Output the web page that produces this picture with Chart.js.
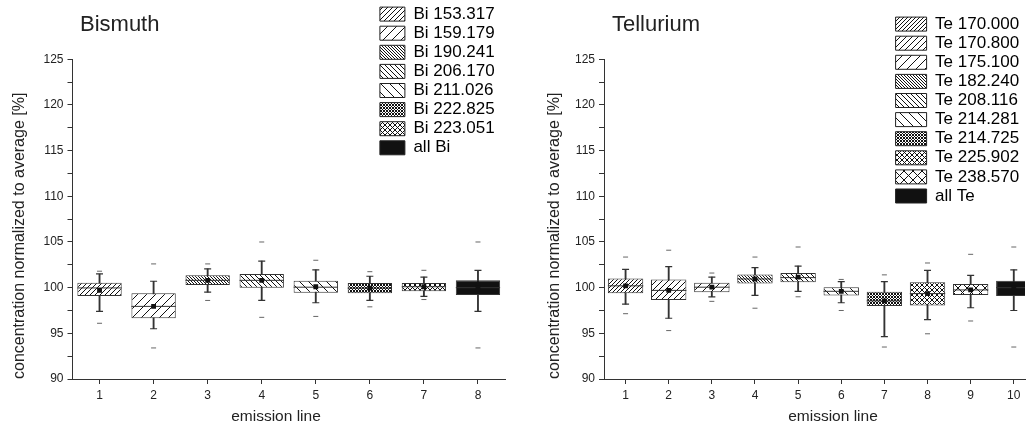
<!DOCTYPE html>
<html>
<head>
<meta charset="utf-8">
<script src="https://cdn.jsdelivr.net/npm/chart.js@4.4.1/dist/chart.umd.min.js"></script>
<style>
  html, body { margin: 0; padding: 0; background: #fff; }
  #wrap { position: relative; width: 1034px; height: 430px; }
  canvas { position: absolute; top: 0; }
  #graficoBi { left: 0; }
  #graficoTe { left: 517px; }
</style>
</head>
<body>
<div id="wrap">
  <canvas id="graficoBi" width="517" height="430"></canvas>
  <canvas id="graficoTe" width="517" height="430"></canvas>
</div>
<script>
// Bismuth - valores
const linhasBi = ['Bi 153.317', 'Bi 159.179', 'Bi 190.241', 'Bi 206.170', 'Bi 211.026', 'Bi 222.825', 'Bi 223.051', 'all Bi'];
const minBi   = [96.1, 93.4, 98.6, 96.75, 96.85, 97.9, 98.7, 93.4];
const bigInfBi = [97.4, 95.5, 99.5, 98.6, 98.35, 98.6, 99.05, 97.4];
const q1Bi    = [99.1, 96.65, 100.3, 100.0, 99.45, 99.4, 99.6, 99.2];
const medBi   = [99.97, 97.95, 100.8, 100.8, 100.05, 99.95, 100.1, 100.0];
const mediaBi = [99.7, 97.95, 100.8, 100.8, 100.1, 99.95, 100.1, 100.0];
const q3Bi    = [100.55, 99.4, 101.35, 101.5, 100.75, 100.5, 100.5, 100.8];
const bigSupBi = [101.5, 100.7, 102.05, 102.9, 101.95, 101.25, 101.15, 101.9];
const maxBi   = [101.8, 102.6, 102.6, 105.0, 103.0, 101.75, 101.9, 105.0];

// Tellurium
const linhasTe = ['Te 170.000', 'Te 170.800', 'Te 175.100', 'Te 182.240', 'Te 208.116', 'Te 214.281', 'Te 214.725', 'Te 225.902', 'Te 238.570', 'all Te'];
const minTe   = [97.15, 95.3, 98.5, 97.75, 99.0, 97.5, 93.5, 94.95, 96.35, 93.5];
const bigInfTe = [98.2, 96.65, 99.0, 99.15, 99.6, 98.35, 94.65, 96.5, 97.8, 97.5];
const q1Te    = [99.4, 98.65, 99.5, 100.45, 100.6, 99.15, 98.0, 98.05, 99.2, 99.1];
const medTe   = [100.2, 99.7, 100.05, 100.95, 101.1, 99.6, 98.55, 99.35, 99.75, 100.0];
const mediaTe = [100.2, 99.7, 100.05, 100.95, 101.15, 99.6, 98.55, 99.35, 99.75, 100.0];
const q3Te    = [101.0, 100.9, 100.55, 101.45, 101.6, 100.05, 99.55, 100.6, 100.4, 100.75];
const bigSupTe = [102.0, 102.3, 101.15, 102.2, 102.35, 100.65, 100.65, 101.9, 101.35, 101.95];
const maxTe   = [103.35, 104.1, 101.6, 103.35, 104.45, 100.9, 101.4, 102.7, 103.65, 104.45];

// hachuras (tipo-passo)
const hachBi = ['fwd-5', 'fwd-9', 'back-3', 'back-5', 'back-9', 'cross-3', 'cross-5', 'solid'];
const hachTe = ['fwd-4', 'fwd-6', 'fwd-9', 'back-3', 'back-5', 'back-9', 'cross-3', 'cross-5', 'cross-9', 'solid'];

const fonte = "'Liberation Sans', Arial, Helvetica, sans-serif";
Chart.defaults.font.family = fonte;
Chart.defaults.color = '#222';

// Cria padrão de hachura
function criarHachura(spec) {
  if (spec === 'solid') return '#111';
  const [tipo, p] = spec.split('-');
  const passo = +p;
  const c = document.createElement('canvas');
  c.width = passo; c.height = passo;
  const g = c.getContext('2d');
  g.fillStyle = '#fff';
  g.fillRect(0, 0, passo, passo);
  g.strokeStyle = '#111';
  g.lineWidth = 1;
  g.beginPath();
  for (let k = -1; k <= 1; k++) {
    if (tipo === 'fwd' || tipo === 'cross') { g.moveTo(k * passo, passo); g.lineTo(k * passo + passo, 0); }
    if (tipo === 'back' || tipo === 'cross') { g.moveTo(k * passo, 0); g.lineTo(k * passo + passo, passo); }
  }
  g.stroke();
  return g.createPattern(c, 'repeat');
}

// Posiciona legenda e títulos como no original
const posicionar = {
  id: 'posicionar',
  afterLayout(chart, args, opts) {
    const lg = chart.legend;
    lg.left = opts.legX; lg.right = opts.legX + lg.width;
    lg.top = opts.legY; lg.bottom = opts.legY + 260;
    const t = chart.titleBlock;
    const w = t.right - t.left;
    t.left = opts.titX; t.right = opts.titX + w;
  },
  afterDraw(chart, args, opts) {
    const ctx = chart.ctx;
    ctx.save();
    ctx.font = '15.5px ' + fonte;
    ctx.fillStyle = '#222';
    ctx.textAlign = 'center';
    ctx.textBaseline = 'middle';
    ctx.fillText(opts.eixoX, opts.eixoXx, 417);
    ctx.restore();
  }
};

function criarGrafico(id, cfg) {
  const padroes = cfg.hach.map(criarHachura);
  const pts = arr => arr.map((v, i) => ({ x: i + 1, y: v }));
  const meiaCaixa = ctx => {
    const s = ctx.chart.scales.x;
    return Math.abs(s.getPixelForValue(2) - s.getPixelForValue(1)) * 0.82 / 2;
  };

  new Chart(document.getElementById(id), {
    type: 'bar',
    data: {
      datasets: [
        {
          type: 'bar', label: 'caixa', order: 3,
          data: cfg.q1.map((v, i) => ({ x: i + 1, y: [v, cfg.q3[i]] })),
          backgroundColor: padroes, borderColor: '#333', borderWidth: 1, borderSkipped: false,
          grouped: false, categoryPercentage: 1, barPercentage: 0.82
        },
        {
          type: 'bar', label: 'bigode', order: 4,
          data: cfg.bInf.map((v, i) => ({ x: i + 1, y: [v, cfg.bSup[i]] })),
          backgroundColor: '#333', borderWidth: 0, barThickness: 1.2, grouped: false
        },
        {
          type: 'line', label: 'limites', order: 2, showLine: false,
          data: [...pts(cfg.bInf), ...pts(cfg.bSup)],
          pointStyle: 'line', pointRadius: 3.5, pointBorderColor: '#333', pointBorderWidth: 1.2
        },
        {
          type: 'line', label: 'extremos', order: 5, showLine: false,
          data: [...pts(cfg.min), ...pts(cfg.max)],
          pointStyle: 'line', pointRadius: 2.5, pointBorderColor: '#666', pointBorderWidth: 1
        },
        {
          type: 'line', label: 'mediana', order: 1, showLine: false,
          data: pts(cfg.med),
          pointStyle: 'line', pointRadius: meiaCaixa, pointBorderColor: '#333', pointBorderWidth: 1
        },
        {
          type: 'line', label: 'média', order: 0, showLine: false,
          data: pts(cfg.media),
          pointStyle: 'rect', pointRadius: 3.4, pointBackgroundColor: '#111', pointBorderWidth: 0
        }
      ]
    },
    options: {
      responsive: false,
      animation: false,
      events: [],
      layout: { padding: { left: 0, right: cfg.padDir, top: 0, bottom: 0 } },
      scales: {
        x: {
          type: 'linear', min: 0.5, max: cfg.xMax, offset: false,
          afterFit: s => { s.height = 51; },
          afterBuildTicks: s => { s.ticks = cfg.linhas.map((_, i) => ({ value: i + 1 })); },
          border: { display: true, color: '#333', width: 1 },
          grid: { drawOnChartArea: false, offset: false, tickLength: 5, tickColor: '#333' },
          ticks: { padding: 4, autoSkip: false, maxRotation: 0, font: { size: 12 } },
          title: { display: false }
        },
        y: {
          min: 90, max: 125,
          afterFit: s => { s.width = cfg.largY; },
          border: { display: true, color: '#333', width: 1 },
          grid: { drawOnChartArea: false, tickLength: 5, tickColor: '#333' },
          ticks: { stepSize: 2.5, padding: 4, autoSkip: false, font: { size: 12 },
                   callback: v => v % 5 === 0 ? v : '' },
          title: { display: true, align: 'start', text: 'concentration normalized to average [%]',
                   font: { size: 16 }, padding: { top: cfg.padTitY, bottom: 0 } }
        }
      },
      plugins: {
        tooltip: { enabled: false },
        title: { display: true, text: cfg.titulo, align: 'start', font: { size: 22, weight: 'normal' },
                 color: '#222', padding: { top: 11.8, bottom: 21.1 } },
        legend: {
          display: true, position: 'chartArea', align: 'start', fullSize: false,
          labels: {
            boxWidth: cfg.caixaLeg, boxHeight: 14, padding: 2.1, font: { size: 17 }, color: '#222',
            generateLabels: () => cfg.linhas.map((t, i) => ({
              text: t, fillStyle: padroes[i], strokeStyle: '#222', lineWidth: 1, hidden: false, index: i
            }))
          }
        },
        posicionar: { legX: cfg.legX, legY: cfg.legY, titX: cfg.titX, eixoX: 'emission line', eixoXx: cfg.eixoXx }
      }
    },
    plugins: [posicionar]
  });
}

window.addEventListener('DOMContentLoaded', () => {
  criarGrafico('graficoBi', {
    titulo: 'Bismuth', linhas: linhasBi, hach: hachBi,
    min: minBi, bInf: bigInfBi, q1: q1Bi, med: medBi, media: mediaBi, q3: q3Bi, bSup: bigSupBi, max: maxBi,
    xMax: 8.5, padDir: 12, largY: 72.5, padTitY: 10.4, titX: 80,
    caixaLeg: 25, legX: 377.8, legY: 3.5, eixoXx: 276
  });
  criarGrafico('graficoTe', {
    titulo: 'Tellurium', linhas: linhasTe, hach: hachTe,
    min: minTe, bInf: bigInfTe, q1: q1Te, med: medTe, media: mediaTe, q3: q3Te, bSup: bigSupTe, max: maxTe,
    xMax: 10.26, padDir: 9, largY: 87, padTitY: 28.4, titX: 95,
    caixaLeg: 31, legX: 376.5, legY: 13.5, eixoXx: 316
  });
});
</script>
</body>
</html>
